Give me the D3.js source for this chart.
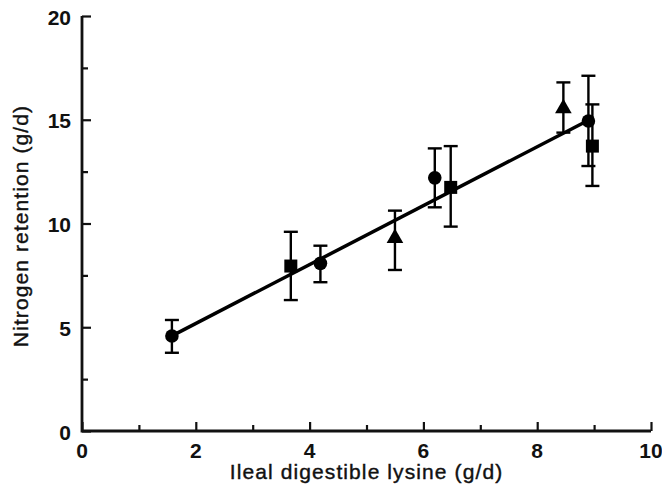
<!DOCTYPE html>
<html>
<head>
<meta charset="utf-8">
<script src="https://cdn.jsdelivr.net/npm/d3@7"></script>
<style>
  body { margin: 0; background: #fff; }
  text { font-family: "Liberation Sans", Arial, sans-serif; fill: #111; }
</style>
</head>
<body>
<script>
// values
const circleX = [1.58, 4.19, 6.2, 8.9]
const circleY = [4.58, 8.08, 12.2, 14.94]
const circleLo = [3.77, 7.17, 10.78, 12.77]
const circleHi = [5.35, 8.93, 13.62, 17.12]

const squareX = [3.67, 6.48, 8.97]
const squareY = [7.95, 11.74, 13.73]
const squareLo = [6.31, 9.85, 11.81]
const squareHi = [9.6, 13.73, 15.74]

const triX = [5.5, 8.46]
const triY = [9.29, 15.55]
const triLo = [7.76, 14.38]
const triHi = [10.62, 16.8]

// fitted line
const lineStartEnd = [1.58, 8.85]
const intercept = 2.34, slope = 1.42

const xTicks = [0, 2, 4, 6, 8, 10]
const yTicks = [0, 5, 10, 15, 20]

const width = 662, height = 492
const margin = { top: 16, right: 11, bottom: 61, left: 82 }
const chartWidth = width - margin.left - margin.right,
      chartHeight = height - margin.top - margin.bottom

const svg = d3.select('body').append('svg')
    .attr('width', width)
    .attr('height', height)
const chart = svg.append('g')
    .attr('transform', `translate(${margin.left},${margin.top})`)

const x = d3.scaleLinear().domain([0, 10]).range([0, chartWidth])
const y = d3.scaleLinear().domain([0, 20]).range([chartHeight, 0])

const toRows = (xs, ys, lo, hi) => xs.map((d, i) => ({ x: d, y: ys[i], lo: lo[i], hi: hi[i] }))
const circles = toRows(circleX, circleY, circleLo, circleHi),
      squares = toRows(squareX, squareY, squareLo, squareHi),
      tris = toRows(triX, triY, triLo, triHi)

// axes: ticks point inward, minor ticks between labels
const xAxis = chart.append('g')
    .attr('transform', `translate(0,${chartHeight})`)
xAxis.call(d3.axisTop(x).tickValues(d3.range(1, 10, 2)).tickSize(6).tickFormat(''))
xAxis.call(g => g.append('g').call(d3.axisTop(x).tickValues(xTicks).tickSize(9).tickFormat('')))
xAxis.append('g').selectAll('text')
    .data(xTicks).enter()
    .append('text')
    .attr('x', d => x(d))
    .attr('y', 27)
    .attr('text-anchor', 'middle')
    .style('font-size', '21px')
    .style('font-weight', 'bold')
    .text(String)

const yAxis = chart.append('g')
yAxis.call(d3.axisRight(y).tickValues(d3.range(2.5, 20, 5)).tickSize(6).tickFormat(''))
yAxis.call(g => g.append('g').call(d3.axisRight(y).tickValues(yTicks).tickSize(9).tickFormat('')))
yAxis.append('g').selectAll('text')
    .data(yTicks).enter()
    .append('text')
    .attr('x', -11)
    .attr('y', d => y(d) + 1)
    .attr('dy', '0.36em')
    .attr('text-anchor', 'end')
    .style('font-size', '21px')
    .style('font-weight', 'bold')
    .text(String)

chart.selectAll('.domain').remove()
chart.selectAll('.tick line').attr('stroke', '#111').attr('stroke-width', 2.2)

// axis lines
chart.append('path')
    .attr('d', `M${x(0)},${y(20)}V${y(0)}H${x(10)}`)
    .attr('fill', 'none')
    .attr('stroke', '#111')
    .attr('stroke-width', 2.8)

// axis titles
svg.append('text')
    .attr('x', margin.left + x(5))
    .attr('y', 479)
    .attr('text-anchor', 'middle')
    .style('font-size', '21px')
    .style('letter-spacing', '1.1px')
    .style('stroke', '#111')
    .style('stroke-width', 0.4)
    .text('Ileal digestible lysine (g/d)')
svg.append('text')
    .attr('transform', `translate(28,226) rotate(-90)`)
    .attr('text-anchor', 'middle')
    .style('font-size', '21px')
    .style('letter-spacing', '1.1px')
    .style('stroke', '#111')
    .style('stroke-width', 0.4)
    .text('Nitrogen retention (g/d)')

// regression line
chart.append('line')
    .attr('x1', x(lineStartEnd[0]))
    .attr('y1', y(intercept + slope * lineStartEnd[0]))
    .attr('x2', x(lineStartEnd[1]))
    .attr('y2', y(intercept + slope * lineStartEnd[1]))
    .attr('stroke', '#000')
    .attr('stroke-width', 3.5)

// error bars
const cap = 7
const drawErr = (rows) => {
    const g = chart.append('g').attr('stroke', '#000').attr('stroke-width', 2.4)
    g.selectAll('.v').data(rows).enter().append('line')
        .attr('x1', d => x(d.x)).attr('x2', d => x(d.x))
        .attr('y1', d => y(d.lo)).attr('y2', d => y(d.hi))
    g.selectAll('.t').data(rows).enter().append('line')
        .attr('x1', d => x(d.x) - cap).attr('x2', d => x(d.x) + cap)
        .attr('y1', d => y(d.hi)).attr('y2', d => y(d.hi))
    g.selectAll('.b').data(rows).enter().append('line')
        .attr('x1', d => x(d.x) - cap).attr('x2', d => x(d.x) + cap)
        .attr('y1', d => y(d.lo)).attr('y2', d => y(d.lo))
}
drawErr(circles)
drawErr(squares)
drawErr(tris)

// markers
chart.selectAll('.circ').data(circles).enter()
    .append('circle')
    .attr('cx', d => x(d.x))
    .attr('cy', d => y(d.y))
    .attr('r', 6.8)
    .attr('fill', '#000')
chart.selectAll('.sq').data(squares).enter()
    .append('rect')
    .attr('x', d => x(d.x) - 6.5)
    .attr('y', d => y(d.y) - 6.5)
    .attr('width', 13)
    .attr('height', 13)
    .attr('fill', '#000')
chart.selectAll('.tri').data(tris).enter()
    .append('path')
    .attr('d', d3.symbol().type(d3.symbolTriangle).size(120))
    .attr('transform', d => `translate(${x(d.x)},${y(d.y)})`)
    .attr('fill', '#000')
</script>
</body>
</html>
